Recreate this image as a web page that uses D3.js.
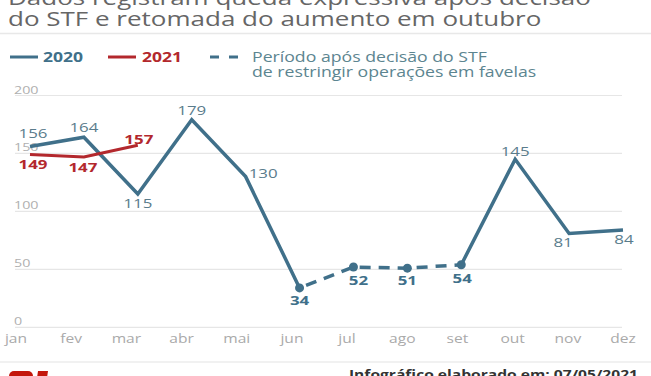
<!DOCTYPE html>
<html><head><meta charset="utf-8">
<script src="https://cdn.jsdelivr.net/npm/d3@7"></script>
<style>html,body{margin:0;padding:0;background:#fff;overflow:hidden}svg{display:block;font-family:"Open Sans",sans-serif}</style>
</head><body>
<svg id="c" width="651" height="376"></svg>
<script>
const months = ["jan","fev","mar","abr","mai","jun","jul","ago","set","out","nov","dez"];
const values2020 = [156,164,115,179,130,34,52,51,54,145,81,84];
const values2021 = [149,147,157];
const dashedMonths = ["jun","jul","ago","set"];
const yTicks = [0,50,100,150,200];
const titleLines = ["Dados registram queda expressiva após decisão","do STF e retomada do aumento em outubro"];
const legendLabels = ["2020","2021"];
const periodLines = ["Período após decisão do STF","de restringir operações em favelas"];
const footerText = "Infográfico elaborado em: 07/05/2021";

// layout config (label placement offsets, not data)
const lab2020 = [[3,-8],[0,-5],[0,14],[0,-5],[3,1,"start"],[0,17],[5,18],[0,17],[1,18],[0,-3],[-6,14],[1,14]];
const lab2021 = [[3,14],[-1,15.5],[1,-1]];

const SX = 1.3;
const C20 = "#40708a", C21 = "#b3282d", LAB = "#5a7c8c";
const svg = d3.select("#c");

function txt(x,y,s,o){
  return svg.append("text").attr("transform",`translate(${x},${y}) scale(${SX},1)`)
    .attr("text-anchor",o.anchor||"start").attr("font-size",o.size).attr("font-weight",o.weight||400)
    .attr("fill",o.fill).text(s);
}

// title
titleLines.forEach((t,i)=>txt(8,5+i*21,t,{size:20,fill:"#666"}));
svg.append("line").attr("x1",0).attr("x2",651).attr("y1",33.5).attr("y2",33.5).attr("stroke","#e8e8e8").attr("stroke-width",1.5);

// legend
[[C20,10,43],[C21,108,142]].forEach(([c,x0,tx],i)=>{
  svg.append("line").attr("x1",x0).attr("x2",x0+28).attr("y1",57).attr("y2",57).attr("stroke",c).attr("stroke-width",3);
  txt(tx,62,legendLabels[i],{size:13.5,weight:700,fill:c});
});
svg.append("line").attr("x1",210).attr("x2",238).attr("y1",57).attr("y2",57).attr("stroke",C20).attr("stroke-width",3).attr("stroke-dasharray","9,10");
periodLines.forEach((t,i)=>txt(252,62+i*15,t,{size:13.6,fill:"#5c8590"}));

// scales
const y = d3.scaleLinear().domain([0,200]).range([327.3,95.5]);
const x = d3.scalePoint().domain(months).range([30,623]);
const xLab = d3.scalePoint().domain(months).range([16,623]);

// grid
svg.append("g").selectAll("line").data(yTicks).join("line")
  .attr("x1",15).attr("x2",622).attr("y1",d=>y(d)).attr("y2",d=>y(d)).attr("stroke","#e6e6e6").attr("stroke-width",1.2);
yTicks.forEach(t=>txt(14,y(t)-2,String(t),{size:11,fill:"#b0b0b0"}));
months.forEach(m=>txt(xLab(m),343,m,{size:12,fill:"#aaa",anchor:"middle"}));

// lines
const pts = values2020.map((v,i)=>({m:months[i],v}));
const line = d3.line().x(d=>x(d.m)).y(d=>y(d.v));
const iStart = months.indexOf(dashedMonths[0]), iEnd = months.indexOf(dashedMonths[dashedMonths.length-1]);
svg.append("path").attr("d",line(pts.slice(0,iStart+1))).attr("fill","none").attr("stroke",C20).attr("stroke-width",3.5).attr("stroke-linejoin","miter");
svg.append("path").attr("d",line(pts.slice(iEnd))).attr("fill","none").attr("stroke",C20).attr("stroke-width",3.5);
svg.append("path").attr("d",line(pts.slice(iStart,iEnd+1))).attr("fill","none").attr("stroke",C20).attr("stroke-width",3.5).attr("stroke-dasharray","11,8").attr("stroke-dashoffset",-7);
svg.append("g").selectAll("circle").data(pts.slice(iStart,iEnd+1)).join("circle")
  .attr("cx",d=>x(d.m)).attr("cy",d=>y(d.v)).attr("r",4.5).attr("fill",C20);

const pts21 = values2021.map((v,i)=>({m:months[i],v}));
svg.append("path").attr("d",line(pts21)).attr("fill","none").attr("stroke",C21).attr("stroke-width",3);

// labels
pts.forEach((d,i)=>{
  const [dx,dy,a] = lab2020[i];
  const bold = i>=iStart && i<=iEnd;
  txt(x(d.m)+dx,y(d.v)+dy,String(d.v),{size:13,weight:bold?700:400,fill:bold?C20:LAB,anchor:a||"middle"});
});
pts21.forEach((d,i)=>{
  const [dx,dy] = lab2021[i];
  txt(x(d.m)+dx,y(d.v)+dy,String(d.v),{size:13,weight:700,fill:C21,anchor:"middle"});
});

// footer
svg.append("line").attr("x1",0).attr("x2",651).attr("y1",362).attr("y2",362).attr("stroke","#ececec").attr("stroke-width",1.5);
txt(638,378.5,footerText,{size:12,weight:700,fill:"#333",anchor:"end"});
// g1 logo (top edge visible)
svg.append("rect").attr("x",9).attr("y",371).attr("width",24).attr("height",14).attr("rx",5).attr("fill","#c4170c");
svg.append("path").attr("d","M38,371 L48,371 L46,385 L36,385 Z").attr("fill","#c4170c");
</script>
</body></html>
